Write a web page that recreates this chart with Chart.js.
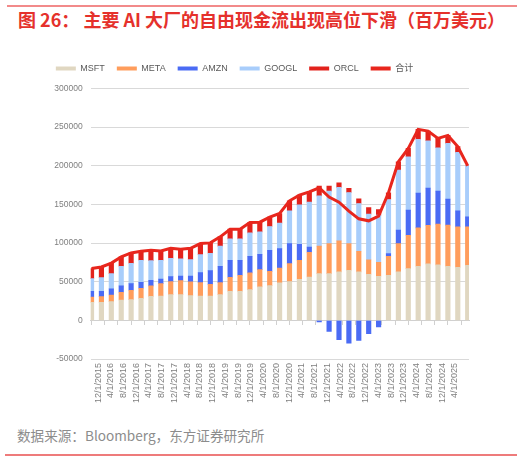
<!DOCTYPE html>
<html><head><meta charset="utf-8">
<script src="https://cdn.jsdelivr.net/npm/chart.js@4.4.1/dist/chart.umd.min.js"></script>
<style>
html,body{margin:0;padding:0;background:#fff;}
body{width:526px;height:461px;position:relative;overflow:hidden;font-family:'Liberation Sans','Noto Sans CJK SC',sans-serif;}
#topline{position:absolute;left:7px;top:5px;width:510px;height:1.5px;background:#F28A8A;}
#title{position:absolute;left:18px;top:8px;line-height:23px;font-size:18px;font-weight:bold;color:#E5312C;white-space:nowrap;font-family:'Noto Sans CJK SC',sans-serif;}
#wrap{position:absolute;left:0;top:52px;width:526px;height:357px;}
#source{position:absolute;left:17px;top:426px;line-height:18px;font-size:13.6px;color:#8c8c8c;white-space:nowrap;font-family:'Noto Sans CJK SC',sans-serif;}
#botline{position:absolute;left:5px;top:454px;width:512px;height:1.5px;background:#EE7B7B;}
</style></head>
<body>
<div id="topline"></div>
<div id="title">图 26：&nbsp;主要 AI 大厂的自由现金流出现高位下滑（百万美元）</div>
<div id="wrap"><canvas id="c"></canvas></div>
<div id="source">数据来源：Bloomberg，东方证券研究所</div>
<div id="botline"></div>
<script>
const quarters = ['12/1/2015','3/1/2016','6/1/2016','9/1/2016','12/1/2016','3/1/2017','6/1/2017','9/1/2017','12/1/2017','3/1/2018','6/1/2018','9/1/2018','12/1/2018','3/1/2019','6/1/2019','9/1/2019','12/1/2019','3/1/2020','6/1/2020','9/1/2020','12/1/2020','3/1/2021','6/1/2021','9/1/2021','12/1/2021','3/1/2022','6/1/2022','9/1/2022','12/1/2022','3/1/2023','6/1/2023','9/1/2023','12/1/2023','3/1/2024','6/1/2024','9/1/2024','12/1/2024','3/1/2025','6/1/2025'];
const tickLabels = ['12/1/2015','4/1/2016','8/1/2016','12/1/2016','4/1/2017','8/1/2017','12/1/2017','4/1/2018','8/1/2018','12/1/2018','4/1/2019','8/1/2019','12/1/2019','4/1/2020','8/1/2020','12/1/2020','4/1/2021','8/1/2021','12/1/2021','4/1/2022','8/1/2022','12/1/2022','4/1/2023','8/1/2023','12/1/2023','4/1/2024','8/1/2024','12/1/2024','4/1/2025'];
const yTicks = [-50000, 0, 50000, 100000, 150000, 200000, 250000, 300000];

const msft  = [23300,23300,24200,26300,26800,28500,31000,31500,33200,33200,32000,31500,31500,33200,37600,37600,39700,43200,44900,48400,50100,53100,56100,60500,60500,62600,64800,62600,59600,57000,58300,62600,66900,70000,73000,71700,70000,68700,71200];
const meta  = [6900,7400,8600,10000,12100,13000,13500,16000,16800,18200,17700,17300,15100,15600,18100,20700,21600,22400,18400,19200,23300,24600,32000,35400,38800,40200,34500,26800,18600,18100,24600,36700,43200,49600,50000,52700,53100,52200,49700];
const amzn  = [7400,6900,7800,8200,8600,7700,7300,6000,6600,6000,7700,12900,17700,21200,22000,19400,21600,19900,27400,25200,25900,20700,6500,-2000,-14200,-25000,-29400,-25900,-17300,-8600,3500,17300,32400,44900,48000,42700,33600,20700,13000];
const googl = [16400,17700,19900,25500,26300,28500,25500,24200,23700,22100,21200,23300,22500,25900,27700,27700,30200,28900,30700,33000,42300,51000,58300,65100,67800,69100,66100,61700,59100,60900,69900,77700,69100,69500,61300,56100,72200,75600,66100];
const orcl  = [13000,13700,13500,12000,13400,11700,13400,12100,13000,12500,14500,14300,13400,12100,12500,12500,13400,12600,12100,12400,13000,12500,13300,12500,6500,6000,5200,6100,8700,7400,8700,10800,10800,13000,12500,12100,10300,7500,0];
const total = [67000,69000,74000,82000,87200,89400,90700,89800,93300,92000,93100,99300,100200,108000,117900,117900,126500,127000,133500,138200,154600,161900,166200,171500,159400,152900,141200,131300,128700,134800,165000,205100,222400,247000,244800,235300,239200,224700,200000];
const seriesNames = ['MSFT','META','AMZN','GOOGL','ORCL','合计'];

const colors = ['#E0D7C1','#FF9D5C','#4A6BF4','#A8CDFB','#E2221C','#E8261D'];

function monthIndex(s){ const p = s.split('/').map(Number); return (p[2]-2015)*12 + (p[0]-12); }
const xs = quarters.map(monthIndex);
const pts = arr => arr.map((v,i)=>({x: xs[i], y: v}));
const tickVals = tickLabels.map(monthIndex);

const FONT = "'Liberation Sans','Noto Sans CJK SC',sans-serif";
Chart.defaults.font.family = FONT;
Chart.defaults.animation = false;

const barSets = [msft, meta, amzn, googl, orcl].map((arr,i)=>({
  type:'bar', label: seriesNames[i], data: pts(arr), backgroundColor: colors[i],
  borderWidth:0, stack:'fcf', barThickness:4.5, order:2
}));
const lineSet = {
  type:'line', label: seriesNames[5], data: pts(total), borderColor: colors[5], backgroundColor: colors[5],
  borderWidth:3, pointRadius:0, pointHoverRadius:0, tension:0, stack:'sum', order:0
};

const XMIN = -0.25, XMAX = 114.4;
const setTicks = axis => { axis.ticks = tickVals.map(v=>({value:v})); };

new Chart(document.getElementById('c'), {
  data: { datasets: [...barSets, lineSet] },
  options: {
    responsive:true, maintainAspectRatio:false,
    layout:{ padding:{ left:0, right:57, top:0, bottom:0 } },
    plugins:{
      tooltip:{enabled:false},
      legend:{
        position:'top', align:'center',
        labels:{
          boxWidth:20, boxHeight:4, padding:12, color:'#595959', font:{size:9, family:FONT},
          sort:(a,b)=>a.datasetIndex-b.datasetIndex,
          generateLabels: chart => Chart.defaults.plugins.legend.labels.generateLabels(chart).map(l=>Object.assign(l,{lineWidth:0}))
        }
      }
    },
    scales:{
      xs:{
        type:'linear', position:'top', min:XMIN, max:XMAX,
        grid:{display:false}, border:{display:false}, ticks:{display:false},
        afterFit: s => { s.height = 5.4; }
      },
      x:{
        type:'linear', position:'bottom', stacked:true, min:XMIN, max:XMAX,
        afterBuildTicks: setTicks,
        grid:{display:false, drawTicks:false}, border:{display:false},
        ticks:{ autoSkip:false, minRotation:90, maxRotation:90, padding:4, color:'#7f7f7f', font:{size:9},
          callback:(v,i)=>tickLabels[i] },
        afterFit: s => { s.height = 50; }
      },
      x2:{
        type:'linear', position:{y:0}, min:XMIN, max:XMAX,
        afterBuildTicks: setTicks,
        ticks:{display:false},
        grid:{drawOnChartArea:false, drawTicks:true, tickLength:4, color:'#d0d0d0'},
        border:{display:true, color:'#d0d0d0'},
        afterFit: s => { s.height = 0; }
      },
      y:{
        stacked:true, min:yTicks[0], max:yTicks[yTicks.length-1],
        afterBuildTicks: axis => { axis.ticks = yTicks.map(v=>({value:v})); },
        grid:{color:'#d9d9d9', drawTicks:false}, border:{display:false},
        ticks:{ padding:8, color:'#7f7f7f', font:{size:8.5}, callback: v => String(v) },
        afterFit: s => { s.width = 90.7; }
      }
    }
  }
});
</script>
</body></html>
